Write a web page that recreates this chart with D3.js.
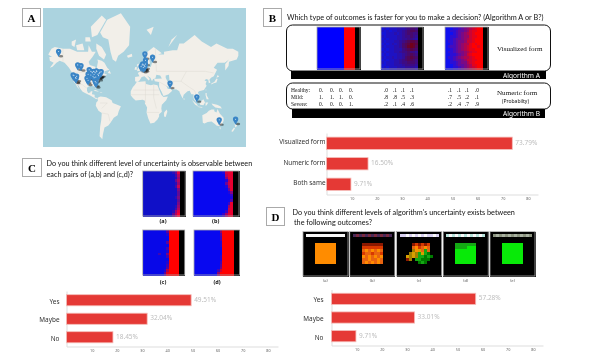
<!DOCTYPE html>
<html>
<head>
<meta charset="utf-8">
<script src="https://cdnjs.cloudflare.com/ajax/libs/d3/7.8.5/d3.min.js"></script>
<style>
  html, body { margin: 0; padding: 0; background: #fff; }
  svg { display: block; filter: blur(0.4px); }
</style>
</head>
<body>
<div id="chart"></div>
<script>
// Bar chart values (percent)
const speedCategories = ["Visualized form", "Numeric form", "Both same"];
const speedValues = [73.79, 16.50, 9.71];
const answerCategories = ["Yes", "Maybe", "No"];
const observableValues = [49.51, 32.04, 18.45];
const existsValues = [57.28, 33.01, 9.71];
const axisTicks = [10, 20, 30, 40, 50, 60, 70, 80];

// Probability table in panel B
const rowNames = ["Healthy:", "Mild:", "Severe:"];
const probCertain = [["0.", "0.", "0.", "0."], ["1.", "1.", "1.", "0."], ["0.", "0.", "0.", "1."]];
const probMedium = [[".0", ".1", ".1", ".1"], [".8", ".8", ".5", ".3"], [".2", ".1", ".4", ".6"]];
const probUncertain = [[".1", ".1", ".1", ".0"], [".7", ".5", ".2", ".1"], [".2", ".4", ".7", ".9"]];

// Heat maps, one char per cell: 0-9 = blue to red, k = black
const heatB1 = Array(16).fill("00000000009999kk");
const heatB2 = ["01011122234554kk", "10101122345665kk", "00111212345544kk", "10111122344543kk",
  "01011122334432kk", "10111223456776kk", "01012123567987kk", "10111223568986kk",
  "01011222456765kk", "10111223445443kk", "01011122345654kk", "10112122356765kk",
  "01011223456654kk", "10111223445554kk", "00111222344443kk", "01011122233332kk"];
const heatB3 = ["00011234567899kk", "00112334578899kk", "00012345678999kk", "00112345578899kk",
  "00123345678999kk", "01123445778999kk", "00123456689899kk", "01223456789989kk",
  "00123456788999kk", "01123445678899kk", "00112345789999kk", "01123456678999kk",
  "00123345778899kk", "00112344678999kk", "00012334568899kk", "00011234567899kk"];
const heatCa = ["00000000000138kk", "00000000000026kk", "00000000000015kk", "00000000000036kk",
  "00000000000015kk", "00000000000027kk", "00000000000004kk", "00000000000003kk",
  "00000000000003kk", "00000000000014kk", "00000000000003kk", "00000000000004kk",
  "00000000000015kk", "00000000000026kk", "00000000000158kk", "00000000000369kk"];
const heatCb = ["00000000001899kk", "00000000000799kk", "00000000000599kk", "00000000000179kk",
  "00000000000489kk", "00000000000179kk", "00000000000049kk", "00000000000015kk",
  "00000000000002kk", "00000000000001kk", "00000000000003kk", "00000000000029kk",
  "00000000000069kk", "00000000000089kk", "00000000000289kk", "00000000002699kk"];
const heatCc = ["00000000039999kk", "00000000019999kk", "00000000009999kk", "00000000009999kk",
  "00000000039999kk", "00000000009999kk", "00000000029999kk", "00000000019999kk",
  "00000020049999kk", "00000000029999kk", "00000000009999kk", "00000000019999kk",
  "00000000029999kk", "00000000039999kk", "00000000169999kk", "00000000389999kk"];
const heatCd = ["00000000059999kk", "00000000039999kk", "00000000029999kk", "00000000029999kk",
  "00000000019999kk", "00000000019999kk", "00000000009999kk", "00000000009999kk",
  "00000000009999kk", "00000000019999kk", "00000000019999kk", "00000000029999kk",
  "00000000039999kk", "00000000049999kk", "00000000279999kk", "00000000599999kk"];

// Outcome images in panel D, one char per cell, see outcomeColors
const outcomeA = ["kkkkkkkkkkkkkkk", "kwwwwwwwwwwwwwk", "kkkkkkkkkkkkkkk", "kkkkkkkkkkkkkkk",
  "kkkkoooooookkkk", "kkkkoooooookkkk", "kkkkoooooookkkk", "kkkkoooooookkkk",
  "kkkkoooooookkkk", "kkkkoooooookkkk", "kkkkoooooookkkk", "kkkkkkkkkkkkkkk",
  "kkkkkkkkkkkkkkk", "kkkkkkkkkkkkkkk", "kkkkkkkkkkkkkkk"];
const outcomeB = ["kkkkkkkkkkkkkkk", "kpqpqpqpqpqpqpk", "kkkkkkkkkkkkkkk", "kkkkkkkkkkkkkkk",
  "kkkkdddddddkkkk", "kkkkrrrrrrrkkkk", "kkkkaoaoaoakkkk", "kkkkraaraarkkkk",
  "kkkkoaoaoaokkkk", "kkkkaaoaaoakkkk", "kkkkaoaoaoakkkk", "kkkkkkkkkkkkkkk",
  "kkkkkkkkkkkkkkk", "kkkkkkkkkkkkkkk", "kkkkkkkkkkkkkkk"];
const outcomeC = ["kkkkkkkkkkkkkkk", "kllwlwlwlwllwlk", "kkkkkkkkkkkkkkk", "kkkkkkkkkkkkkkk",
  "kkkkkdrdrdrkkkk", "kkkkkaoraoakkkk", "kkkkkeouahakkkk", "kkkkeuehuhmkkkk",
  "kkkueuehhmhmkkk", "kkkdekhhmmmkkkk", "kkkkkkkmhmkkkkk", "kkkkkkkkkkkkkkk",
  "kkkkkkkkkkkkkkk", "kkkkkkkkkkkkkkk", "kkkkkkkkkkkkkkk"];
const outcomeD = ["kkkkkkkkkkkkkkk", "kcwcwcwcwcwcwck", "kkkkkkkkkkkkkkk", "kkkkkkkkkkkkkkk",
  "kkkkhhhhhhhkkkk", "kkkkhhhhgggkkkk", "kkkkgggggggkkkk", "kkkkgggggggkkkk",
  "kkkkgggggggkkkk", "kkkkgggggggkkkk", "kkkkgggggggkkkk", "kkkkkkkkkkkkkkk",
  "kkkkkkkkkkkkkkk", "kkkkkkkkkkkkkkk", "kkkkkkkkkkkkkkk"];
const outcomeE = ["kkkkkkkkkkkkkkk", "kysysysysysysyk", "kkkkkkkkkkkkkkk", "kkkkkkkkkkkkkkk",
  "kkkkgggggggkkkk", "kkkkgggggggkkkk", "kkkkgggggggkkkk", "kkkkgggggggkkkk",
  "kkkkgggggggkkkk", "kkkkgggggggkkkk", "kkkkgggggggkkkk", "kkkkkkkkkkkkkkk",
  "kkkkkkkkkkkkkkk", "kkkkkkkkkkkkkkk", "kkkkkkkkkkkkkkk"];
const outcomeNames = ["(a)", "(b)", "(c)", "(d)", "(e)"];

// Participant locations [lon, lat]
const pinLocations = [
  [-149, 64], [-114, 51], [-108, 50], [-122.4, 37.8], [-121, 37], [-118, 34], [-117, 33], [-116, 36],
  [-93, 45], [-90, 43], [-88, 42], [-87, 41], [-85, 43], [-83, 42], [-81, 41], [-80, 43.6], [-79, 43],
  [-77, 39], [-75, 40], [-74, 41], [-73, 42], [-71, 42.4], [-84, 39], [-86, 36], [-90, 38], [-95, 39],
  [-97, 33], [-95, 30], [-84, 34], [-81, 35], [-82, 28], [-80.5, 26], [-76, 37],
  [5, 52], [4, 51], [7, 51], [8, 50], [6, 48], [9, 49], [10, 52], [2, 49], [9, 62], [10, 56], [23, 59],
  [55, 25], [104, 1], [145, -38], [175, -37]
];

// Simplified coastlines [lon, lat]
const landShapes = [
  [[-168,66],[-162,70],[-156,71],[-141,70],[-128,70],[-115,68],[-108,68],[-95,68],[-94,72],[-88,68],[-81,68],[-87,64],[-94,60],[-92,57],[-82,55],[-80,51],[-79,54],[-77,60],[-78,62],[-70,61],[-65,59],[-60,54],[-56,52],[-65,50],[-65,47],[-60,46],[-66,44],[-70,43],[-74,40],[-76,36],[-81,31],[-80,26],[-81,25],[-83,29],[-89,30],[-94,29],[-97,27],[-97,22],[-95,18],[-91,19],[-90,21],[-87,21],[-88,16],[-83,15],[-83,10],[-78,9],[-80,7],[-85,10],[-92,14],[-96,16],[-105,20],[-109,25],[-113,31],[-115,31],[-110,23],[-115,28],[-118,33],[-122,37],[-124,41],[-124,48],[-130,54],[-138,59],[-147,61],[-153,59],[-160,55],[-165,54],[-158,59],[-165,61],[-166,64],[-161,64]],
  [[-73,78],[-60,82],[-35,83.5],[-18,80],[-20,72],[-30,68],[-40,65],[-44,60],[-50,62],[-54,68],[-58,75],[-68,76]],
  [[-80,73],[-70,71],[-62,66],[-66,62],[-75,65],[-80,70]],
  [[-117,72],[-105,73],[-102,69],[-115,69]],
  [[-90,80],[-70,83],[-62,82],[-78,77],[-88,76]],
  [[-125,74],[-117,75],[-120,71],[-125,72]],
  [[-100,76],[-92,76],[-90,74],[-100,74]],
  [[-59,48],[-56,51],[-53,47]],
  [[-24,65],[-15,66.5],[-14,64.5],[-22,63.5]],
  [[-85,22],[-75,20],[-78,22],[-82,23]],
  [[-74,19.8],[-68.5,18.5],[-71.5,18]],
  [[-78,9],[-75,11],[-72,12],[-62,10.5],[-52,5],[-50,0],[-44,-2.5],[-35,-6],[-39,-15],[-41,-22],[-48,-26],[-54,-34],[-58,-38],[-65,-41],[-68,-50],[-69,-55],[-74,-52],[-73,-40],[-71,-30],[-70,-18],[-76,-14],[-81,-5],[-80,1],[-77,4]],
  [[-6,36],[10,37],[11,33],[20,31],[25,32],[32,31],[35,24],[39,15],[43,11],[51,12],[48,5],[40,-3],[39,-10],[40,-16],[35,-20],[35,-24],[32,-29],[26,-34],[19,-35],[15,-27],[12,-17],[13,-8],[9,-1],[9,4],[5,6],[-4,5],[-8,4.5],[-13,9],[-17,14],[-17,21],[-13,28],[-10,31]],
  [[49,-12],[50,-16],[47,-25],[44,-24],[44,-17]],
  [[-9,37],[-9,43],[-1,44],[-4,48],[3,51],[8,54],[8,57],[10.5,57],[10,54],[14,54],[20,55],[22,59],[29,60],[22,60],[21,63],[25,65.5],[22,66],[17,62],[18,59],[16,56],[13,55.5],[11,59],[6,58],[5,62],[14,68],[25,71],[40,67],[33,66],[44,66],[44,68],[60,69],[68,69],[72,73],[80,73],[100,77],[113,74],[130,71],[140,73],[160,70],[170,70],[180,68],[180,65],[177,62],[163,60],[162,56],[156,51],[156,58],[163,62],[155,59],[142,59],[135,54],[141,52],[135,44],[130,42],[127,39],[129,35],[126,34],[125,39],[121,40],[118,38],[122,37],[120,33],[122,30],[117,23],[108,21],[106,19],[109,13],[105,9],[100,13],[103,5],[103.5,1.5],[100,5],[98,9],[98,16],[94,16],[91,22],[87,21],[80,15],[78,8],[73,18],[72,21],[67,24],[57,25],[52,28],[48,30],[51,25],[56,25],[59,22],[52,16],[43,12.5],[39,21],[35,28],[35,36],[27,37],[26,40],[40,41],[37,45],[30,46],[28,41],[24,40],[22,37],[19,42],[13,45],[18,40],[16,38],[11,42],[8,44],[3,43],[0,39],[-2,37],[-5,36]],
  [[-5,50],[1,51],[0,54],[-2,57],[-3,58.5],[-6,57],[-3,54],[-5,52]],
  [[-10,52],[-6,52],[-6,55],[-9,54.5]],
  [[130,32],[135,34],[140,35],[142,40],[140,41],[136,36],[131,34]],
  [[140,42],[145,43.5],[142,45.5]],
  [[95,5.5],[104,-2],[106,-6],[101,-3]],
  [[109,1],[116,7],[119,1],[116,-4],[110,-3]],
  [[105,-6.5],[114,-7.5],[114,-8.5],[106,-7.5]],
  [[120,1],[125,1],[122,-4],[120,-5]],
  [[131,-1],[141,-3],[147,-6],[150,-10],[143,-9],[138,-8],[133,-4]],
  [[120,18],[122,18],[122,14],[126,7],[122,7],[120,14]],
  [[80,9.5],[82,7],[80,6]],
  [[121,25],[121,22],[120,23]],
  [[114,-22],[122,-18],[126,-14],[131,-12],[136,-12],[136,-15],[140,-17],[142,-11],[146,-19],[153,-26],[153,-31],[150,-37],[145,-39],[140,-38],[136,-35],[131,-32],[124,-33],[118,-35],[115,-34]],
  [[145,-41],[148,-41],[147,-43.5]],
  [[173,-35],[178,-38],[175,-41],[174,-39]],
  [[172,-41],[174,-42],[170,-46.5],[167,-46]],
  [[12,79],[25,80],[20,77]],
  [[52,71],[68,77],[58,75]]
];
const caspianSea = [[47,45],[53,46],[54,37],[50,37],[47,42]];
const borderLines = [
  [[-141,70],[-141,60]],
  [[-123,49],[-95,49],[-83,46],[-75,45],[-67,47]],
  [[-117,32],[-106,32],[-97,26]],
  [[-70,-18],[-58,-20],[-55,-32]],
  [[-73,0],[-60,0],[-70,-10]],
  [[-12,23],[25,23],[35,23]],
  [[25,32],[25,10],[30,-10]],
  [[10,37],[10,0]],
  [[-17,15],[35,15]],
  [[13,-17],[35,-17]],
  [[28,70],[30,50],[50,50],[85,50],[100,50],[120,50],[135,48]],
  [[35,36],[48,30],[60,25]],
  [[60,25],[60,37],[75,37],[90,28],[100,22],[105,9]],
  [[75,37],[85,50]]
];

const serif = "'Liberation Serif', serif";
const sans = "'Noto Sans', sans-serif";
const calibri = "Lato, sans-serif";

const svg = d3.select("#chart").append("svg")
    .attr("width", 598)
    .attr("height", 358);

// Little framed letter for each panel
function panelLabel(letter, x, y, w) {
  svg.append("rect").attr("x", x + .5).attr("y", y + .5).attr("width", w).attr("height", 18)
      .attr("fill", "#fff").attr("stroke", "#aaa");
  svg.append("text").attr("x", x + w / 2 + .5).attr("y", y + 13.5)
      .attr("text-anchor", "middle").attr("font-family", serif)
      .attr("font-weight", "bold").attr("font-size", 11).text(letter);
}

function label(text, x, y, size, font, opts) {
  const o = opts || {};
  return svg.append("text").attr("x", x).attr("y", y)
      .attr("font-size", size).attr("font-family", font)
      .attr("fill", o.fill || "#111")
      .attr("text-anchor", o.anchor || "start")
      .attr("font-weight", o.weight || "normal")
      .text(text);
}

// Grid image drawn through band scales
function gridImage(rows, x0, y0, w, h, color) {
  const x = d3.scaleBand().domain(d3.range(rows[0].length)).range([x0, x0 + w]);
  const y = d3.scaleBand().domain(d3.range(rows.length)).range([y0, y0 + h]);
  const g = svg.append("g").attr("shape-rendering", "crispEdges");
  rows.forEach((row, r) => {
    g.selectAll(null)
      .data(row.split(""))
      .enter()
      .append("rect")
        .attr("x", (d, c) => x(c))
        .attr("y", y(r))
        .attr("width", x.bandwidth() + .5)
        .attr("height", y.bandwidth() + .5)
        .attr("fill", d => color(d));
  });
  svg.append("rect").attr("x", x0).attr("y", y0).attr("width", w).attr("height", h)
      .attr("fill", "none").attr("stroke", "#a8a8a8").attr("stroke-width", .8);
}

function heatColor(low, high) {
  const c = d3.scaleLinear().domain([0, 9]).range([low, high]);
  return d => d === "k" ? "#000" : c(+d);
}

// Horizontal percent bars with a light axis
function barChart(cats, values, left, top, bottom, catRight, catDy) {
  const x = d3.scaleLinear().domain([0, 84]).range([left, left + 211.5]);
  const y = d3.scaleBand().domain(cats).range([top, bottom]).paddingInner(.4).paddingOuter(.2);
  const g = svg.append("g");

  g.append("g")
    .attr("transform", `translate(0,${bottom})`)
    .call(d3.axisBottom(x).tickValues(axisTicks).tickSize(0).tickPadding(3))
    .call(a => a.select(".domain").attr("stroke", "#ddd"))
    .selectAll("text")
      .attr("font-size", 3.8)
      .attr("font-family", sans)
      .attr("fill", "#666");

  g.append("g")
    .attr("transform", `translate(${left},0)`)
    .call(d3.axisLeft(y).tickSize(0).tickFormat(""))
    .call(a => a.select(".domain").attr("stroke", "#ddd"));

  g.selectAll(".bar")
    .data(values)
    .enter()
    .append("rect")
      .attr("class", "bar")
      .attr("x", x(0))
      .attr("y", (d, i) => y(cats[i]))
      .attr("width", d => x(d) - x(0))
      .attr("height", y.bandwidth())
      .attr("fill", "#e53935")
      .attr("stroke", "#f6bcb8")
      .attr("stroke-width", .8);

  g.selectAll(".val")
    .data(values)
    .enter()
    .append("text")
      .attr("class", "val")
      .attr("x", d => x(d) + 3)
      .attr("y", (d, i) => y(cats[i]) + y.bandwidth() / 2 + 1.5)
      .attr("font-size", 6.5)
      .attr("font-family", sans)
      .attr("fill", "#bdbdbd")
      .text(d => d.toFixed(2) + "%");

  g.selectAll(".cat")
    .data(cats)
    .enter()
    .append("text")
      .attr("class", "cat")
      .attr("x", catRight)
      .attr("y", d => y(d) + y.bandwidth() / 2 + 2.2 + catDy)
      .attr("text-anchor", "end")
      .attr("font-size", 6.4)
      .attr("font-family", sans)
      .attr("fill", "#333")
      .text(d => d);
}

// Panel A: map
svg.append("clipPath").attr("id", "map-clip")
  .append("rect").attr("x", 43).attr("y", 8).attr("width", 203).attr("height", 139);
const projection = d3.geoMercator().scale(31.3).translate([140, 103]);
const lineGen = d3.line();
const mapG = svg.append("g").attr("clip-path", "url(#map-clip)");
mapG.append("rect").attr("x", 43).attr("y", 8).attr("width", 203).attr("height", 139).attr("fill", "#abd3df");
mapG.selectAll(".land")
  .data(landShapes)
  .enter()
  .append("path")
    .attr("class", "land")
    .attr("d", d => lineGen(d.map(projection)) + "Z")
    .attr("fill", "#f2efe9");
mapG.append("path").attr("d", lineGen(caspianSea.map(projection)) + "Z").attr("fill", "#abd3df");
mapG.selectAll(".border")
  .data(borderLines)
  .enter()
  .append("path")
    .attr("class", "border")
    .attr("d", d => lineGen(d.map(projection)))
    .attr("fill", "none")
    .attr("stroke", "#dad6ce")
    .attr("stroke-width", .4);
mapG.selectAll(".shadow")
  .data(pinLocations)
  .enter()
  .append("ellipse")
    .attr("class", "shadow")
    .attr("cx", d => projection(d)[0] + 2.4)
    .attr("cy", d => projection(d)[1] - .8)
    .attr("rx", 2.2)
    .attr("ry", 1.2)
    .attr("fill", "#000")
    .attr("opacity", .45);
mapG.selectAll(".pin")
  .data(pinLocations)
  .enter()
  .append("path")
    .attr("class", "pin")
    .attr("transform", d => `translate(${projection(d)})`)
    .attr("d", "M0,0C-.9,-2.6 -2.7,-3.6 -2.7,-5.6A2.7,2.7 0 1 1 2.7,-5.6C2.7,-3.6 .9,-2.6 0,0Z")
    .attr("fill", "#3a85c6");
mapG.selectAll(".pin-dot")
  .data(pinLocations)
  .enter()
  .append("circle")
    .attr("class", "pin-dot")
    .attr("cx", d => projection(d)[0])
    .attr("cy", d => projection(d)[1] - 5.6)
    .attr("r", .55)
    .attr("fill", "#fff")
    .attr("opacity", .8);
panelLabel("A", 22, 8, 18);

// Panel B
panelLabel("B", 263, 8, 18);
label("Which type of outcomes is faster for you to make a decision? (Algorithm A or B?)", 287, 20, 7.3, calibri);
svg.append("rect").attr("x", 286.5).attr("y", 25).attr("width", 264).attr("height", 46).attr("rx", 6)
    .attr("fill", "#fff").attr("stroke", "#111");
svg.append("rect").attr("x", 291).attr("y", 71).attr("width", 255).attr("height", 8).attr("fill", "#000");
svg.append("rect").attr("x", 286.5).attr("y", 83).attr("width", 264).attr("height", 26).attr("rx", 6)
    .attr("fill", "#fff").attr("stroke", "#111");
svg.append("rect").attr("x", 292).attr("y", 109).attr("width", 253).attr("height", 9).attr("fill", "#000");
gridImage(heatB1, 317, 27, 43, 42, heatColor("#0000ff", "#ff0000"));
gridImage(heatB2, 381, 27, 42, 42, heatColor("#1414d8", "#70001a"));
gridImage(heatB3, 445, 27, 43, 42, heatColor("#1010f0", "#ff0000"));
label("Visualized form", 497, 51, 7.1, serif);
label("Algorithm A", 503, 77.5, 6.6, sans, {fill: "#fff"});
label("Numeric form", 497, 95, 7.1, serif);
label("(Probabilty)", 502, 102.5, 5, sans);
label("Algorithm B", 503, 116, 6.6, sans, {fill: "#fff"});

const rowY = d3.scalePoint().domain(rowNames).range([92, 106]);
rowNames.forEach((name, r) => {
  label(name, 291, rowY(name), 5.5, serif);
  [[probCertain, [321, 332, 341, 351]], [probMedium, [386, 395, 403, 412]], [probUncertain, [450, 459, 467, 477]]]
    .forEach(set => set[0][r].forEach((v, c) => label(v, set[1][c], rowY(name), 5.5, serif, {anchor: "middle"})));
});
barChart(speedCategories, speedValues, 326.5, 133, 194.5, 325.5, -1);

// Panel C
panelLabel("C", 22, 158, 19);
label("Do you think different level of uncertainty is observable between", 46.5, 166, 7.25, calibri);
label("each pairs of (a,b) and (c,d)?", 46.5, 176.5, 7.25, calibri);
gridImage(heatCa, 142.7, 171, 42.5, 45, heatColor("#1010c8", "#ff0030"));
gridImage(heatCb, 193, 171, 46, 45, heatColor("#0808f0", "#e80030"));
gridImage(heatCc, 142.7, 230, 42, 45, heatColor("#0808e8", "#ff0000"));
gridImage(heatCd, 194, 230, 45.5, 45, heatColor("#0808f0", "#ff0000"));
[["(a)", 163, 223], ["(b)", 215.7, 223], ["(c)", 163, 284], ["(d)", 217, 284]]
  .forEach(d => label(d[0], d[1], d[2], 5.5, sans, {anchor: "middle", weight: "bold"}));
barChart(answerCategories, observableValues, 66.5, 291, 346.5, 59.5, 1.3);

// Panel D
panelLabel("D", 266, 207, 18);
label("Do you think different levels of algorithm's uncertainty exists between", 292.5, 215, 7.27, calibri);
label("the following outcomes?", 294, 224.5, 7.27, calibri);
const outcomeColors = {k: "#000", w: "#f8f8f8", p: "#4a2a58", q: "#7a2a40", l: "#d8d0f0", c: "#b8e4dc",
  y: "#8c9480", s: "#a8b0a0", o: "#ff8c00", r: "#d83800", d: "#8a1800", a: "#e86410", g: "#08ea08",
  h: "#14a814", m: "#007a00", e: "#a08000", u: "#d8a000"};
const outcomeX = d3.scalePoint().domain(outcomeNames).range([303, 490]);
[outcomeA, outcomeB, outcomeC, outcomeD, outcomeE].forEach((rows, i) => {
  const x0 = outcomeX(outcomeNames[i]);
  gridImage(rows, x0, 231.5, 45, 44.5, d => outcomeColors[d]);
  label(outcomeNames[i], x0 + 22.5, 281.5, 4, sans, {anchor: "middle", fill: "#555"});
});
barChart(answerCategories, existsValues, 331.5, 289.5, 345.5, 323.5, 1.3);
</script>
</body>
</html>
